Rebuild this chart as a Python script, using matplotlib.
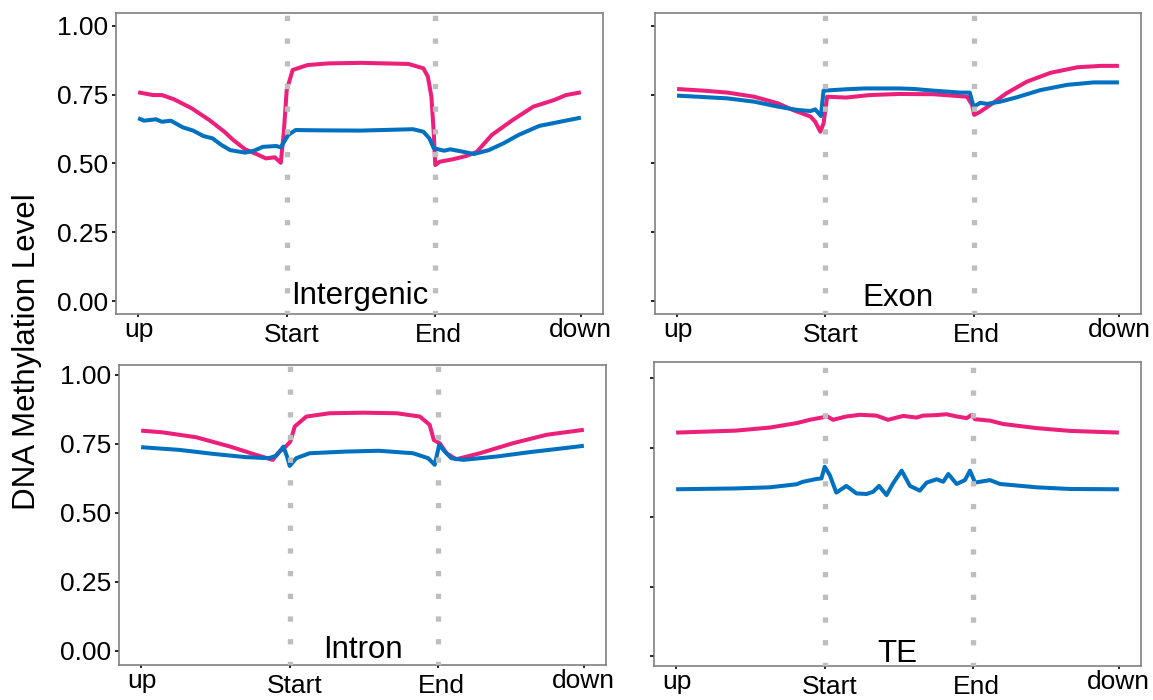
import matplotlib
matplotlib.use("Agg")
import matplotlib.pyplot as plt
from matplotlib.transforms import blended_transform_factory, ScaledTranslation

plt.rcParams['font.family'] = ['Liberation Sans', 'DejaVu Sans']

# ---------------- data ----------------
tick_pos = [0, 50, 100, 149]
tick_labels = ["up", "Start", "End", "down"]
boundaries = [50, 100]
y_ticks = [0.00, 0.25, 0.50, 0.75, 1.00]
y_tick_labels = ["0.00", "0.25", "0.50", "0.75", "1.00"]
panel_names = ["Intergenic", "Exon", "Intron", "TE"]

intergenic_pink_x = [0, 5, 8, 12, 18, 24, 29, 32, 36, 40, 43, 46, 48, 49, 50, 52, 57, 64, 75,
                     91, 96, 97.5, 98.7, 99.5, 100, 101.5, 106, 110.5, 114, 119, 126, 133, 140, 144, 149]
intergenic_pink = [.758, .748, .748, .733, .700, .657, .615, .585, .551, .533, .518, .522, .502, .609, .766,
                   .839, .857, .863, .865, .861, .845, .815, .742, .609, .494, .506, .515, .527, .542,
                   .603, .657, .706, .730, .748, .758]
intergenic_blue_x = [0, 2, 6, 8, 11, 15, 18.5, 22, 25, 28, 31, 36, 39, 42, 46.5, 48, 50.5, 53, 60, 75,
                     92.5, 96, 98, 99.5, 101, 103, 105, 108, 113, 118, 123, 128, 135, 142, 149]
intergenic_blue = [.664, .655, .660, .651, .655, .631, .619, .599, .591, .567, .548, .539, .546, .560,
                   .563, .558, .603, .621, .620, .619, .624, .615, .591, .555, .551, .546, .551, .545,
                   .534, .548, .573, .603, .636, .651, .666]

exon_pink_x = [0, 9, 17, 26, 34, 39, 45, 46.6, 48.3, 49.4, 50.6, 57, 65, 75, 86.5, 97.8, 99.5, 100.2,
               102.3, 105.6, 111, 118, 126, 135, 143, 149]
exon_pink = [.770, .764, .757, .742, .718, .694, .670, .651, .615, .645, .742, .739, .748, .752, .751,
             .742, .712, .676, .688, .712, .754, .797, .829, .849, .854, .854]
exon_blue_x = [0, 17, 26, 34, 40.5, 45, 46.6, 48.5, 49.4, 57, 63, 75, 80, 86.5, 95.5, 98.7, 100, 102.3,
               104.5, 109, 114.6, 122.5, 131.5, 140.5, 149]
exon_blue = [.746, .736, .724, .706, .694, .690, .696, .672, .764, .769, .772, .772, .770, .764, .757,
             .757, .706, .720, .716, .724, .740, .766, .785, .794, .794]

intron_pink_x = [0, 7, 18.5, 30, 38.7, 44.3, 46, 48.9, 50.2, 51.7, 55.6, 63.4, 74.7, 86, 93.8, 97.1,
                 98.5, 100.5, 102.8, 106, 114, 125, 136.5, 149]
intron_pink = [.798, .792, .774, .740, .710, .692, .716, .743, .758, .813, .849, .861, .863, .861, .849,
               .819, .764, .752, .716, .694, .716, .752, .783, .801]
intron_blue_x = [0, 13, 24, 35, 43, 45.5, 47.9, 49.1, 50, 52.2, 56.7, 69, 80, 91.5, 96.6, 98.8, 100.3,
                 102.2, 104.4, 108.4, 119.6, 130.8, 142, 149]
intron_blue = [.738, .728, .714, .702, .698, .707, .740, .704, .670, .698, .716, .722, .725, .716, .698,
               .674, .746, .722, .698, .692, .704, .720, .734, .743]

te_pink_x = [0, 20, 31.5, 40.5, 45, 49.4, 50.6, 52.8, 57.3, 61.8, 67.4, 71.3, 76.4, 80.9, 83.1, 87.7,
             91, 94.4, 97.8, 99.5, 100.6, 105.6, 110, 121.4, 132.6, 149]
te_pink = [.804, .811, .822, .838, .850, .859, .864, .850, .862, .868, .865, .850, .864, .858, .865,
           .867, .870, .862, .856, .868, .852, .847, .835, .820, .810, .804]
te_blue_x = [0, 20, 31.5, 40.5, 42.7, 47.2, 48.9, 50, 51.7, 53.9, 57.3, 60.7, 64.1, 66.3, 68.3, 70.8,
             73, 75.9, 78.7, 82, 84.3, 87.7, 89.9, 91.6, 94.4, 97.2, 98.9, 100.6, 105.6, 109, 121.4,
             132.6, 149]
te_blue = [.600, .603, .607, .618, .627, .637, .639, .681, .651, .588, .612, .585, .583, .591, .612,
           .579, .621, .667, .612, .595, .624, .636, .627, .655, .619, .633, .667, .624, .633, .619,
           .607, .601, .600]

# ---------------- style ----------------
W, H = 1153, 700
PINK = "#EC1F7A"
BLUE = "#0070C0"
VLINE = "#BEBEBE"
FRAME = "#808080"

fig = plt.figure(figsize=(W / 100, H / 100), dpi=100)

# panel boxes in pixels: left, top, right, bottom ; ylim per panel
panels = [
    dict(box=(116, 13, 603, 314), ylim=(-0.047, 1.046), ylabels=True,
         name=panel_names[0], name_y=-0.011,
         pink=(intergenic_pink_x, intergenic_pink), blue=(intergenic_blue_x, intergenic_blue)),
    dict(box=(655, 13, 1141, 314), ylim=(-0.047, 1.046), ylabels=False,
         name=panel_names[1], name_y=-0.018,
         pink=(exon_pink_x, exon_pink), blue=(exon_blue_x, exon_blue)),
    dict(box=(119, 365, 606, 665), ylim=(-0.052, 1.036), ylabels=True,
         name=panel_names[2], name_y=-0.025,
         pink=(intron_pink_x, intron_pink), blue=(intron_blue_x, intron_blue)),
    dict(box=(654, 362, 1141, 666), ylim=(-0.036, 1.058), ylabels=False,
         name=panel_names[3], name_y=-0.022,
         pink=(te_pink_x, te_pink), blue=(te_blue_x, te_blue)),
]

label_dx = [1, 5, 3, 0]        # small horizontal offsets in px
label_dy = [-23, -28, -28, -23]  # baseline offsets in px below the frame

xr = tick_pos[-1] - tick_pos[0]
for p in panels:
    l, t, r, b = p["box"]
    ax = fig.add_axes([l / W, 1 - b / H, (r - l) / W, (b - t) / H])
    ax.plot(p["pink"][0], p["pink"][1], color=PINK, lw=2.9, solid_capstyle="butt",
            solid_joinstyle="round", zorder=3)
    ax.plot(p["blue"][0], p["blue"][1], color=BLUE, lw=2.9, solid_capstyle="butt",
            solid_joinstyle="round", zorder=4)
    for bx in boundaries:
        ax.axvline(bx, color=VLINE, lw=3.8, linestyle=(0.3, (1, 3.3)), zorder=5)
    ax.set_xlim(tick_pos[0] - 0.05 * xr, tick_pos[-1] + 0.05 * xr)
    ax.set_ylim(*p["ylim"])
    ax.set_xticks(tick_pos)
    ax.set_xticklabels([""] * len(tick_pos))
    ax.set_yticks(y_ticks)
    if p["ylabels"]:
        ax.set_yticklabels(y_tick_labels, fontsize=19)
    else:
        ax.set_yticklabels([""] * len(y_ticks))
    ax.tick_params(axis="y", direction="out", length=3, width=1.2, color="black", pad=2.5)
    ax.tick_params(axis="x", direction="out", length=2, width=1.2, color="black")
    for s in ax.spines.values():
        s.set_color(FRAME)
        s.set_linewidth(1.2)
    trans_x = blended_transform_factory(ax.transData, ax.transAxes)
    for xp, lab, dx, dy in zip(tick_pos, tick_labels, label_dx, label_dy):
        off = ScaledTranslation(dx / 100, dy / 100, fig.dpi_scale_trans)
        ax.text(xp, 0, lab, transform=trans_x + off, ha="center", va="baseline", fontsize=19)
    ax.text((tick_pos[0] + tick_pos[-1]) / 2, p["name_y"], p["name"], ha="center", va="baseline",
            fontsize=22.5, zorder=6)

fig.text(27 / W, 1 - 352 / H, "DNA Methylation Level", rotation=90, ha="center", va="center",
         fontsize=22.5)

fig.savefig("out.png", dpi=100)
